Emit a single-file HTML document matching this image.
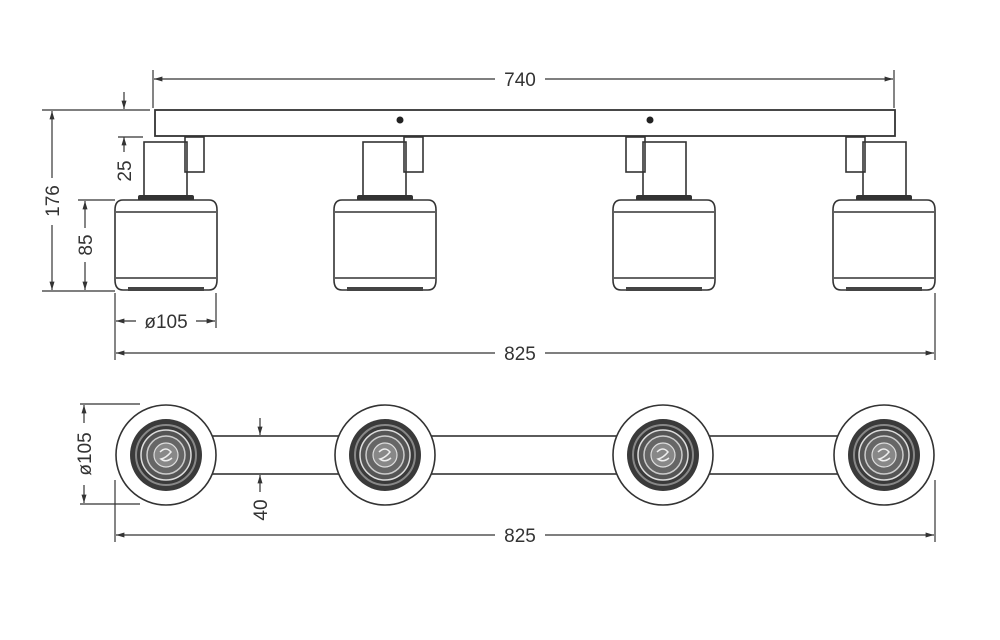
<!DOCTYPE html>
<html><head><style>html,body{margin:0;padding:0;background:#fff}svg{display:block}</style></head>
<body>
<svg width="1000" height="640" viewBox="0 0 1000 640" xmlns="http://www.w3.org/2000/svg" font-family="Liberation Sans, sans-serif">
<defs>
<marker id="a" viewBox="0 0 10 10" refX="10" refY="5" markerWidth="7" markerHeight="7" orient="auto-start-reverse"><path d="M0,2 L10,5 L0,8z" fill="#333"/></marker>
<g id="lamp" fill="none" stroke="#333" stroke-width="1.6">
<rect x="-22" y="142" width="43" height="54"/>
<rect x="19" y="137" width="19" height="35"/>
<rect x="-28" y="195" width="56" height="6" fill="#333" stroke="none" rx="2"/>
<path d="M-43,200 H43 Q51,200 51,210 V280 Q51,290 43,290 H-43 Q-51,290 -51,280 V210 Q-51,200 -43,200Z" fill="#fff"/>
<line x1="-50" y1="212" x2="50" y2="212"/>
<line x1="-50" y1="278" x2="50" y2="278"/>
<rect x="-38" y="287" width="76" height="4" fill="#444" stroke="none"/>
</g>
<g id="top" stroke="#333" fill="none">
<circle r="50" fill="#fff" stroke-width="1.6"/>
<circle r="36" fill="#3a3a3a" stroke="none"/>
<circle r="30" stroke="#888" stroke-width="2"/>
<circle r="25" fill="#555" stroke="#ddd" stroke-width="1.5"/>
<circle r="19" fill="#666" stroke="#ccc" stroke-width="1.5"/>
<circle r="12" fill="#888" stroke="#ddd" stroke-width="1.2"/>
<path d="M-6,-3 Q0,-9 5,-3 Q0,3 -5,4 Q0,8 6,3" stroke="#eee" stroke-width="1.5"/>
</g>
</defs>
<g stroke="#333" stroke-width="1.2" fill="none">
<!-- 740 -->
<line x1="153" y1="70" x2="153" y2="108"/><line x1="894" y1="70" x2="894" y2="108"/>
<line x1="154" y1="79" x2="495" y2="79" marker-start="url(#a)"/>
<line x1="545" y1="79" x2="893" y2="79" marker-end="url(#a)"/>
<!-- bar -->
<rect x="155" y="110" width="740" height="26" stroke-width="1.8"/>
<!-- 176 -->
<line x1="42" y1="110" x2="150" y2="110"/><line x1="42" y1="291" x2="115" y2="291"/>
<line x1="52" y1="111" x2="52" y2="178" marker-start="url(#a)"/>
<line x1="52" y1="225" x2="52" y2="290" marker-end="url(#a)"/>
<!-- 25 -->
<line x1="124" y1="92" x2="124" y2="109" marker-end="url(#a)"/>
<line x1="118" y1="137" x2="143" y2="137"/>
<line x1="124" y1="137" x2="124" y2="152" marker-start="url(#a)"/>
<!-- 85 -->
<line x1="78" y1="200" x2="115" y2="200"/>
<line x1="85" y1="201" x2="85" y2="228" marker-start="url(#a)"/>
<line x1="85" y1="262" x2="85" y2="290" marker-end="url(#a)"/>
<!-- ø105 -->
<line x1="115" y1="293" x2="115" y2="360"/><line x1="216" y1="293" x2="216" y2="328"/>
<line x1="116" y1="321" x2="136" y2="321" marker-start="url(#a)"/>
<line x1="196" y1="321" x2="215" y2="321" marker-end="url(#a)"/>
<!-- 825 -->
<line x1="935" y1="293" x2="935" y2="360"/>
<line x1="116" y1="353" x2="495" y2="353" marker-start="url(#a)"/>
<line x1="545" y1="353" x2="934" y2="353" marker-end="url(#a)"/>
</g>
<circle cx="400" cy="120" r="3.5" fill="#222"/><circle cx="650" cy="120" r="3.5" fill="#222"/>
<use href="#lamp" transform="translate(166,0)"/>
<use href="#lamp" transform="translate(385,0)"/>
<use href="#lamp" transform="translate(664,0) scale(-1,1)"/>
<use href="#lamp" transform="translate(884,0) scale(-1,1)"/>
<g font-size="19" fill="#333" text-anchor="middle">
<text x="520" y="86">740</text>
<text x="520" y="360">825</text>
<text x="166" y="328">ø105</text>
<text transform="translate(59,201) rotate(-90)">176</text>
<text transform="translate(131,171) rotate(-90)">25</text>
<text transform="translate(92,245) rotate(-90)">85</text>
</g>
<!-- bottom view -->
<g stroke="#333" stroke-width="1.6" fill="none">
<rect x="200" y="436" width="660" height="38"/>
</g>
<use href="#top" transform="translate(166,455)"/>
<use href="#top" transform="translate(385,455)"/>
<use href="#top" transform="translate(663,455)"/>
<use href="#top" transform="translate(884,455)"/>
<g stroke="#333" stroke-width="1.2" fill="none">
<line x1="80" y1="404" x2="140" y2="404"/><line x1="80" y1="504" x2="140" y2="504"/>
<line x1="84" y1="405" x2="84" y2="423" marker-start="url(#a)"/>
<line x1="84" y1="485" x2="84" y2="503" marker-end="url(#a)"/>
<line x1="260" y1="418" x2="260" y2="435" marker-end="url(#a)"/>
<line x1="260" y1="475" x2="260" y2="492" marker-start="url(#a)"/>
<line x1="115" y1="480" x2="115" y2="542"/><line x1="935" y1="480" x2="935" y2="542"/>
<line x1="116" y1="535" x2="495" y2="535" marker-start="url(#a)"/>
<line x1="545" y1="535" x2="934" y2="535" marker-end="url(#a)"/>
</g>
<g font-size="19" fill="#333" text-anchor="middle">
<text x="520" y="542">825</text>
<text transform="translate(91,454) rotate(-90)">ø105</text>
<text transform="translate(267,510) rotate(-90)">40</text>
</g>
</svg>
</body></html>
